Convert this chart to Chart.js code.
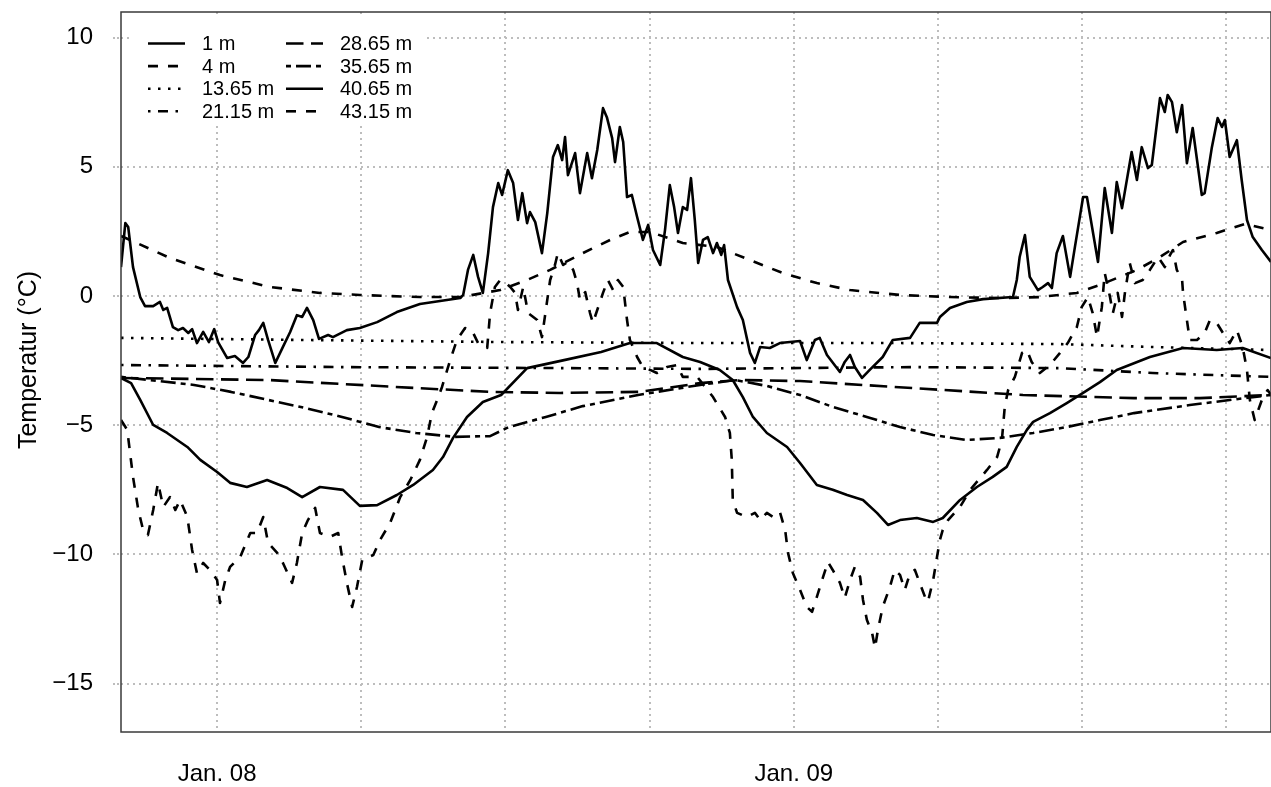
<!DOCTYPE html>
<html><head><meta charset="utf-8">
<script src="https://cdn.jsdelivr.net/npm/chart.js@4.4.1/dist/chart.umd.min.js"></script>
<style>html,body{margin:0;padding:0;background:#fff;} #wrap{width:1271px;height:787px;}</style>
</head><body><div id="wrap"><canvas id="c" width="1271" height="787"></canvas></div>
<script>
// x values: months since 1 Jan 2008; y values: temperature in °C
const seriesNames = ['1 m','4 m','13.65 m','21.15 m','28.65 m','35.65 m','40.65 m','43.15 m'];
const xTickMonths = [0,3,6,9,12,15,18,21];
const xTickLabels = ['Jan. 08','','','','Jan. 09','','',''];
const yTicks = [-15,-10,-5,0,5,10];

const s1m = [[-2.00,1.12],[-1.91,2.82],[-1.85,2.67],[-1.75,1.12],[-1.60,-0.04],[-1.50,-0.39],[-1.33,-0.39],[-1.19,-0.23],[-1.12,-0.54],[-1.04,-0.46],[-0.92,-1.20],[-0.81,-1.32],[-0.71,-1.24],[-0.60,-1.43],[-0.52,-1.28],[-0.42,-1.82],[-0.29,-1.39],[-0.17,-1.78],[-0.06,-1.28],[0.02,-1.78],[0.21,-2.40],[0.37,-2.32],[0.54,-2.59],[0.65,-2.36],[0.79,-1.51],[0.87,-1.32],[0.96,-1.04],[1.06,-1.70],[1.21,-2.59],[1.37,-1.97],[1.52,-1.39],[1.66,-0.74],[1.77,-0.81],[1.87,-0.46],[2.00,-0.93],[2.12,-1.66],[2.31,-1.51],[2.41,-1.59],[2.70,-1.32],[2.97,-1.24],[3.33,-1.01],[3.74,-0.62],[4.22,-0.31],[4.64,-0.19],[5.06,-0.08],[5.12,0.04],[5.22,1.01],[5.33,1.59],[5.43,0.74],[5.53,0.12],[5.64,1.66],[5.74,3.44],[5.85,4.37],[5.93,3.91],[6.05,4.87],[6.16,4.37],[6.26,2.94],[6.35,3.98],[6.45,2.82],[6.51,3.25],[6.62,2.86],[6.76,1.66],[6.87,3.21],[6.99,5.38],[7.09,5.84],[7.18,5.26],[7.24,6.15],[7.30,4.68],[7.45,5.53],[7.55,3.98],[7.70,5.53],[7.80,4.56],[7.91,5.65],[8.03,7.27],[8.11,6.92],[8.22,6.11],[8.28,5.18],[8.38,6.54],[8.45,5.96],[8.53,3.83],[8.63,3.91],[8.74,3.06],[8.86,2.17],[8.97,2.75],[9.07,1.78],[9.22,1.20],[9.32,2.55],[9.42,4.29],[9.51,3.44],[9.59,2.44],[9.69,3.44],[9.78,3.33],[9.86,4.56],[9.94,2.94],[10.01,1.28],[10.11,2.17],[10.21,2.28],[10.32,1.66],[10.40,2.05],[10.49,1.59],[10.55,1.97],[10.63,0.62],[10.82,-0.43],[10.94,-0.93],[11.09,-2.20],[11.19,-2.59],[11.30,-1.97],[11.50,-2.01],[11.71,-1.82],[11.92,-1.78],[12.13,-1.74],[12.27,-2.48],[12.44,-1.70],[12.54,-1.62],[12.69,-2.28],[12.96,-2.94],[13.06,-2.55],[13.17,-2.28],[13.27,-2.75],[13.42,-3.17],[13.58,-2.86],[13.85,-2.36],[14.06,-1.70],[14.42,-1.62],[14.62,-1.04],[14.98,-1.04],[15.04,-0.81],[15.25,-0.46],[15.60,-0.23],[15.94,-0.12],[16.56,-0.04],[16.64,0.62],[16.70,1.51],[16.81,2.36],[16.91,0.74],[17.08,0.23],[17.18,0.35],[17.29,0.50],[17.37,0.31],[17.47,1.66],[17.60,2.32],[17.75,0.74],[17.85,1.90],[18.02,3.83],[18.10,3.83],[18.33,1.32],[18.47,4.18],[18.62,2.44],[18.72,4.41],[18.83,3.40],[19.03,5.57],[19.14,4.49],[19.24,5.76],[19.37,4.95],[19.45,5.07],[19.62,7.66],[19.72,7.12],[19.78,7.78],[19.87,7.50],[19.97,6.34],[20.08,7.39],[20.18,5.14],[20.30,6.50],[20.49,3.91],[20.55,3.98],[20.70,5.76],[20.82,6.89],[20.91,6.54],[20.97,6.81],[21.07,5.38],[21.22,6.03],[21.32,4.49],[21.43,2.94],[21.55,2.28],[21.74,1.78],[21.93,1.32]];

const s4m = [[-2.00,2.32],[-1.81,2.17],[-0.98,1.47],[0.06,0.81],[1.10,0.35],[2.14,0.12],[2.97,0.04],[4.22,-0.04],[5.06,-0.04],[5.89,0.23],[6.45,0.62],[6.93,1.01],[7.61,1.66],[8.18,2.17],[8.59,2.48],[9.01,2.48],[9.69,2.05],[10.40,1.90],[11.09,1.39],[11.77,0.89],[12.48,0.50],[13.17,0.23],[14.21,0.04],[15.25,-0.04],[16.29,-0.08],[17.12,-0.04],[17.89,0.12],[18.37,0.43],[19.14,1.01],[19.62,1.51],[20.10,2.09],[20.80,2.44],[21.39,2.79],[21.93,2.55]];

const s13m = [[-2.00,-1.62],[1.73,-1.70],[5.89,-1.78],[10.05,-1.82],[14.21,-1.82],[17.54,-1.86],[19.41,-1.97],[21.93,-2.09]];

const s21m = [[-2.00,-2.67],[2.60,-2.75],[7.22,-2.79],[10.05,-2.82],[14.46,-2.75],[17.54,-2.79],[19.47,-2.98],[21.93,-3.13]];

const s28m = [[-2.00,-3.17],[1.06,-3.25],[4.14,-3.56],[5.68,-3.71],[7.14,-3.75],[8.80,-3.71],[10.05,-3.37],[10.88,-3.25],[12.13,-3.29],[14.46,-3.56],[16.77,-3.83],[19.08,-3.95],[20.45,-3.95],[21.93,-3.83]];

const s35m = [[-2.00,-3.13],[-0.48,-3.44],[0.29,-3.71],[1.06,-4.02],[1.83,-4.33],[2.60,-4.68],[3.37,-5.07],[4.14,-5.30],[4.95,-5.45],[5.68,-5.42],[6.07,-5.07],[6.84,-4.68],[7.61,-4.26],[8.76,-3.83],[10.05,-3.44],[10.78,-3.25],[11.44,-3.48],[12.13,-3.83],[12.81,-4.29],[13.52,-4.68],[14.21,-5.07],[14.90,-5.38],[15.60,-5.57],[16.29,-5.49],[16.98,-5.30],[17.68,-5.07],[18.37,-4.80],[19.08,-4.53],[20.24,-4.22],[21.39,-3.95],[21.93,-3.83]];

const s40m = [[-2.00,-3.17],[-1.79,-3.37],[-1.60,-4.02],[-1.33,-4.99],[-1.04,-5.30],[-0.62,-5.84],[-0.35,-6.34],[0.00,-6.81],[0.27,-7.23],[0.62,-7.39],[1.04,-7.12],[1.46,-7.43],[1.77,-7.78],[2.14,-7.39],[2.62,-7.50],[2.97,-8.12],[3.33,-8.09],[3.74,-7.70],[4.08,-7.31],[4.49,-6.73],[4.70,-6.23],[4.91,-5.49],[5.20,-4.68],[5.53,-4.10],[5.91,-3.83],[6.45,-2.79],[7.22,-2.48],[7.99,-2.17],[8.59,-1.82],[9.15,-1.82],[9.69,-2.36],[10.05,-2.55],[10.46,-2.86],[10.73,-3.25],[10.94,-3.91],[11.15,-4.68],[11.44,-5.30],[11.86,-5.84],[12.13,-6.46],[12.48,-7.31],[12.81,-7.50],[13.11,-7.70],[13.44,-7.89],[13.73,-8.39],[13.96,-8.86],[14.21,-8.67],[14.56,-8.59],[14.90,-8.74],[15.10,-8.59],[15.46,-7.89],[15.81,-7.39],[16.14,-7.00],[16.43,-6.61],[16.64,-5.84],[16.85,-5.18],[16.98,-4.87],[17.33,-4.53],[17.68,-4.14],[18.02,-3.75],[18.37,-3.33],[18.72,-2.86],[19.41,-2.36],[20.10,-2.01],[20.80,-2.09],[21.34,-2.01],[21.93,-2.40]];

const s43m = [[-2.00,-4.80],[-1.87,-5.18],[-1.75,-7.00],[-1.64,-8.28],[-1.54,-9.05],[-1.44,-9.25],[-1.33,-8.28],[-1.23,-7.23],[-1.12,-8.16],[-0.98,-7.78],[-0.87,-8.28],[-0.77,-7.89],[-0.62,-8.55],[-0.52,-9.83],[-0.42,-10.72],[-0.29,-10.33],[-0.15,-10.60],[0.00,-10.99],[0.06,-11.88],[0.17,-10.99],[0.27,-10.48],[0.48,-10.10],[0.69,-9.17],[0.83,-9.17],[0.96,-8.55],[1.06,-9.55],[1.25,-9.94],[1.37,-10.33],[1.56,-11.10],[1.66,-10.33],[1.77,-9.17],[1.89,-8.67],[2.04,-8.20],[2.14,-9.17],[2.35,-9.32],[2.52,-9.17],[2.60,-10.10],[2.70,-11.10],[2.81,-12.03],[2.91,-11.26],[3.02,-10.21],[3.25,-10.02],[3.39,-9.44],[3.60,-8.78],[3.81,-7.78],[4.02,-7.12],[4.22,-6.34],[4.37,-5.45],[4.47,-4.53],[4.58,-4.02],[4.68,-3.52],[4.85,-2.48],[4.99,-1.70],[5.16,-1.24],[5.30,-1.32],[5.43,-1.82],[5.62,-2.01],[5.68,-0.66],[5.78,0.35],[5.89,0.62],[5.99,0.54],[6.10,0.35],[6.20,0.12],[6.26,-0.54],[6.37,0.35],[6.47,-0.66],[6.66,-0.93],[6.76,-1.59],[6.87,-0.15],[6.93,0.62],[7.03,1.20],[7.09,1.66],[7.20,1.20],[7.30,1.32],[7.41,1.01],[7.49,0.50],[7.55,-0.15],[7.66,0.15],[7.76,-0.66],[7.82,-1.04],[7.93,-0.43],[8.03,0.12],[8.13,0.62],[8.24,0.23],[8.34,0.62],[8.45,0.35],[8.53,-0.93],[8.59,-1.70],[8.74,-2.36],[8.86,-2.75],[9.01,-2.86],[9.15,-2.98],[9.36,-2.75],[9.57,-2.67],[9.69,-3.13],[9.99,-3.13],[10.32,-3.91],[10.57,-4.68],[10.67,-5.30],[10.71,-6.34],[10.73,-7.89],[10.82,-8.39],[11.02,-8.55],[11.19,-8.39],[11.30,-8.67],[11.44,-8.39],[11.57,-8.55],[11.71,-8.36],[11.82,-9.05],[11.88,-9.94],[11.98,-10.72],[12.13,-11.37],[12.27,-12.03],[12.38,-12.22],[12.48,-11.64],[12.61,-10.87],[12.71,-10.29],[12.81,-10.60],[12.96,-11.10],[13.06,-11.68],[13.17,-10.99],[13.27,-10.48],[13.38,-10.87],[13.44,-11.76],[13.52,-12.53],[13.63,-13.04],[13.69,-13.62],[13.75,-12.92],[13.85,-12.03],[14.00,-11.26],[14.10,-10.60],[14.21,-10.79],[14.31,-11.37],[14.42,-10.72],[14.52,-10.60],[14.62,-11.10],[14.73,-11.64],[14.79,-11.84],[14.90,-10.99],[14.98,-10.10],[15.04,-9.44],[15.10,-9.05],[15.21,-8.67],[15.46,-8.16],[15.67,-7.50],[16.02,-6.73],[16.23,-6.23],[16.33,-5.57],[16.39,-4.29],[16.46,-3.64],[16.60,-3.13],[16.75,-2.20],[16.85,-2.09],[16.95,-2.55],[17.12,-2.98],[17.33,-2.67],[17.54,-2.20],[17.70,-1.82],[17.89,-1.20],[17.99,-0.43],[18.12,-0.04],[18.22,-0.66],[18.31,-1.59],[18.41,-0.43],[18.47,0.89],[18.58,-0.04],[18.64,-0.66],[18.74,0.12],[18.83,-0.81],[18.89,0.12],[18.99,1.28],[19.10,0.50],[19.26,0.62],[19.41,1.01],[19.58,1.51],[19.72,1.12],[19.83,1.59],[19.89,1.78],[19.97,1.01],[20.08,0.62],[20.10,0.12],[20.18,-0.93],[20.24,-1.70],[20.39,-1.70],[20.55,-1.43],[20.66,-0.93],[20.80,-1.04],[20.93,-1.43],[21.07,-1.82],[21.22,-1.32],[21.34,-1.97],[21.43,-2.86],[21.49,-4.02],[21.59,-4.80],[21.74,-4.02],[21.86,-3.64],[21.93,-3.83]];

const seriesData = [s1m, s4m, s13m, s21m, s28m, s35m, s40m, s43m];

// styles
const FONT = "'Liberation Sans', Arial, Helvetica, sans-serif";
const dashes = [[], [10,10], [2.5,7.5], [2.5,7.5,10,7.5], [17.5,7.5], [5,5,15,5], [], [10,10]];
const GRID = '#bdbdbd';

const datasets = seriesNames.map((name, i) => ({
  label: name,
  data: seriesData[i].map(p => ({x: p[0], y: p[1]})),
  borderColor: '#000',
  borderWidth: 2.6,
  borderDash: dashes[i],
  borderCapStyle: 'butt',
  borderJoinStyle: 'round',
  pointRadius: 0,
  fill: false,
  tension: 0
}));

const deco = {
  id: 'deco',
  afterDraw(chart) {
    const {ctx, chartArea: a} = chart;
    ctx.save();
    ctx.setLineDash([]);
    ctx.strokeStyle = '#3a3a3a';
    ctx.lineWidth = 1.5;
    ctx.strokeRect(a.left, a.top, a.right - a.left, a.bottom - a.top);

    // legend (two columns, four rows)
    const lx = a.left + 11, ly = a.top + 3;
    ctx.fillStyle = '#fff';
    ctx.fillRect(lx, ly, 291, 107);
    ctx.font = '20px ' + FONT;
    ctx.textBaseline = 'middle';
    ctx.textAlign = 'left';
    const rowH = 22.6;
    seriesNames.forEach((name, i) => {
      const col = Math.floor(i / 4), row = i % 4;
      const y = a.top + 31.5 + row * rowH;
      const x0 = a.left + 27 + col * 138;
      ctx.strokeStyle = '#000';
      ctx.lineWidth = 2.6;
      ctx.setLineDash(dashes[i]);
      ctx.beginPath();
      ctx.moveTo(x0, y);
      ctx.lineTo(x0 + 37, y);
      ctx.stroke();
      ctx.setLineDash([]);
      ctx.fillStyle = '#000';
      ctx.fillText(name, x0 + 54, y + 1);
    });

    // y axis title
    ctx.translate(29, 360);
    ctx.rotate(-Math.PI / 2);
    ctx.textAlign = 'center';
    ctx.textBaseline = 'middle';
    ctx.font = '25px ' + FONT;
    ctx.fillStyle = '#000';
    ctx.fillText('Temperatur (°C)', 0, 0);
    ctx.restore();
  }
};

const noPad = s => { s.paddingTop = 0; s.paddingBottom = 0; s.paddingLeft = 0; s.paddingRight = 0; };

new Chart(document.getElementById('c'), {
  type: 'line',
  data: { datasets },
  options: {
    responsive: false,
    animation: false,
    devicePixelRatio: 1,
    layout: { padding: { top: 12, right: 0, left: 0, bottom: 0 } },
    plugins: { legend: { display: false }, tooltip: { enabled: false }, title: { display: false } },
    scales: {
      x: {
        type: 'linear',
        min: -2,
        max: 21.93,
        afterBuildTicks: s => { s.ticks = xTickMonths.map(v => ({ value: v })); },
        afterFit: s => { s.height = 55; noPad(s); },
        ticks: {
          autoSkip: false, maxRotation: 0, minRotation: 0,
          padding: 28, color: '#000',
          font: { family: FONT, size: 24 },
          callback: v => { const k = xTickMonths.indexOf(v); return k >= 0 ? xTickLabels[k] : ''; }
        },
        grid: { color: GRID, lineWidth: 2, drawTicks: false },
        border: { display: false, dash: [2, 4] }
      },
      y: {
        min: -16.87,
        max: 10.99,
        afterBuildTicks: s => { s.ticks = yTicks.map(v => ({ value: v })); },
        afterFit: s => { s.width = 121; noPad(s); },
        ticks: {
          padding: 20, color: '#000',
          font: { family: FONT, size: 24 },
          callback: v => v < 0 ? '\u2212' + Math.abs(v) : String(v)
        },
        grid: { color: GRID, lineWidth: 2, drawTicks: true, tickLength: 8, tickBorderDash: [2, 2] },
        border: { display: false, dash: [2, 4] }
      }
    }
  },
  plugins: [deco]
});
</script>
</body></html>
